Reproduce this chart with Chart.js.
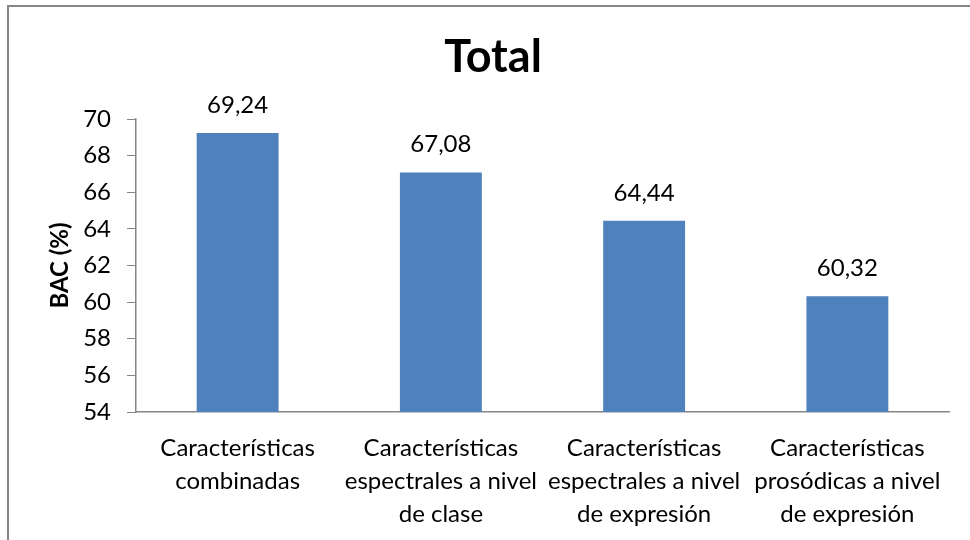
<!DOCTYPE html>
<html>
<head>
<meta charset="utf-8">
<script src="https://cdn.jsdelivr.net/npm/chart.js@4/dist/chart.umd.min.js"></script>
<style>
  html, body { margin: 0; padding: 0; background: #ffffff; }
  #wrap { position: relative; width: 970px; height: 540px; }
  canvas { display: block; }
</style>
</head>
<body>
<div id="wrap"><canvas id="chart" width="970" height="540"></canvas></div>
<script>
// BAC per feature set
const categories = [
  ['Características', 'combinadas'],
  ['Características', 'espectrales a nivel', 'de clase'],
  ['Características', 'espectrales a nivel', 'de expresión'],
  ['Características', 'prosódicas a nivel', 'de expresión']
];
const bacValues = [69.24, 67.08, 64.44, 60.32];
const yTicks = [54, 56, 58, 60, 62, 64, 66, 68, 70];

const FONT = 'Lato, "Open Sans", sans-serif';
const AXIS_GREY = '#868686';

// thin grey frame round the whole chart
const framePlugin = {
  id: 'frame',
  afterDraw(chart) {
    const ctx = chart.ctx;
    ctx.save();
    ctx.strokeStyle = AXIS_GREY;
    ctx.lineWidth = 2;
    ctx.strokeRect(8, 6, chart.width + 10, chart.height + 10);
    ctx.restore();
  }
};

// value printed above each bar, decimal comma
const valueLabels = {
  id: 'valueLabels',
  afterDatasetsDraw(chart) {
    const ctx = chart.ctx;
    const meta = chart.getDatasetMeta(0);
    ctx.save();
    ctx.font = '24px ' + FONT;
    ctx.fillStyle = '#000000';
    ctx.textAlign = 'center';
    ctx.textBaseline = 'middle';
    meta.data.forEach((bar, i) => {
      const txt = bacValues[i].toFixed(2).replace('.', ',');
      ctx.fillText(txt, bar.x, bar.y - 28);
    });
    ctx.restore();
  }
};

new Chart(document.getElementById('chart'), {
  type: 'bar',
  data: {
    labels: categories,
    datasets: [{
      data: bacValues,
      backgroundColor: '#4F81BD',
      borderWidth: 0,
      barPercentage: 0.403,
      categoryPercentage: 1.0
    }]
  },
  options: {
    responsive: false,
    devicePixelRatio: 1,
    animation: false,
    layout: { padding: { left: 37, right: 21, top: 0, bottom: 0 } },
    plugins: {
      legend: { display: false },
      tooltip: { enabled: false },
      title: {
        display: true,
        text: 'Total',
        color: '#000000',
        font: { family: FONT, size: 45, weight: 'bold', lineHeight: 1.0 },
        padding: { top: 35, bottom: 39 }
      }
    },
    scales: {
      x: {
        grid: { drawOnChartArea: false, drawTicks: false },
        border: { display: true, color: AXIS_GREY, width: 1.5 },
        ticks: {
          color: '#000000',
          font: { family: FONT, size: 24, lineHeight: 1.375 },
          padding: 20,
          maxRotation: 0,
          autoSkip: false
        },
        afterFit(scale) { scale.height = 128; }
      },
      y: {
        min: 54,
        max: 70,
        afterBuildTicks(scale) { scale.ticks = yTicks.map(v => ({ value: v })); },
        grid: { drawOnChartArea: false, drawTicks: true, tickLength: 9, color: AXIS_GREY },
        border: { display: true, color: AXIS_GREY, width: 1.5 },
        ticks: {
          color: '#000000',
          font: { family: FONT, size: 24 },
          padding: 16
        },
        title: {
          display: true,
          text: 'BAC (%)',
          color: '#000000',
          font: { family: FONT, size: 24, weight: 'bold', lineHeight: 1.0 },
          padding: { top: 11, bottom: 0 }
        },
        afterFit(scale) { scale.width = 99; }
      }
    }
  },
  plugins: [framePlugin, valueLabels]
});
</script>
</body>
</html>
